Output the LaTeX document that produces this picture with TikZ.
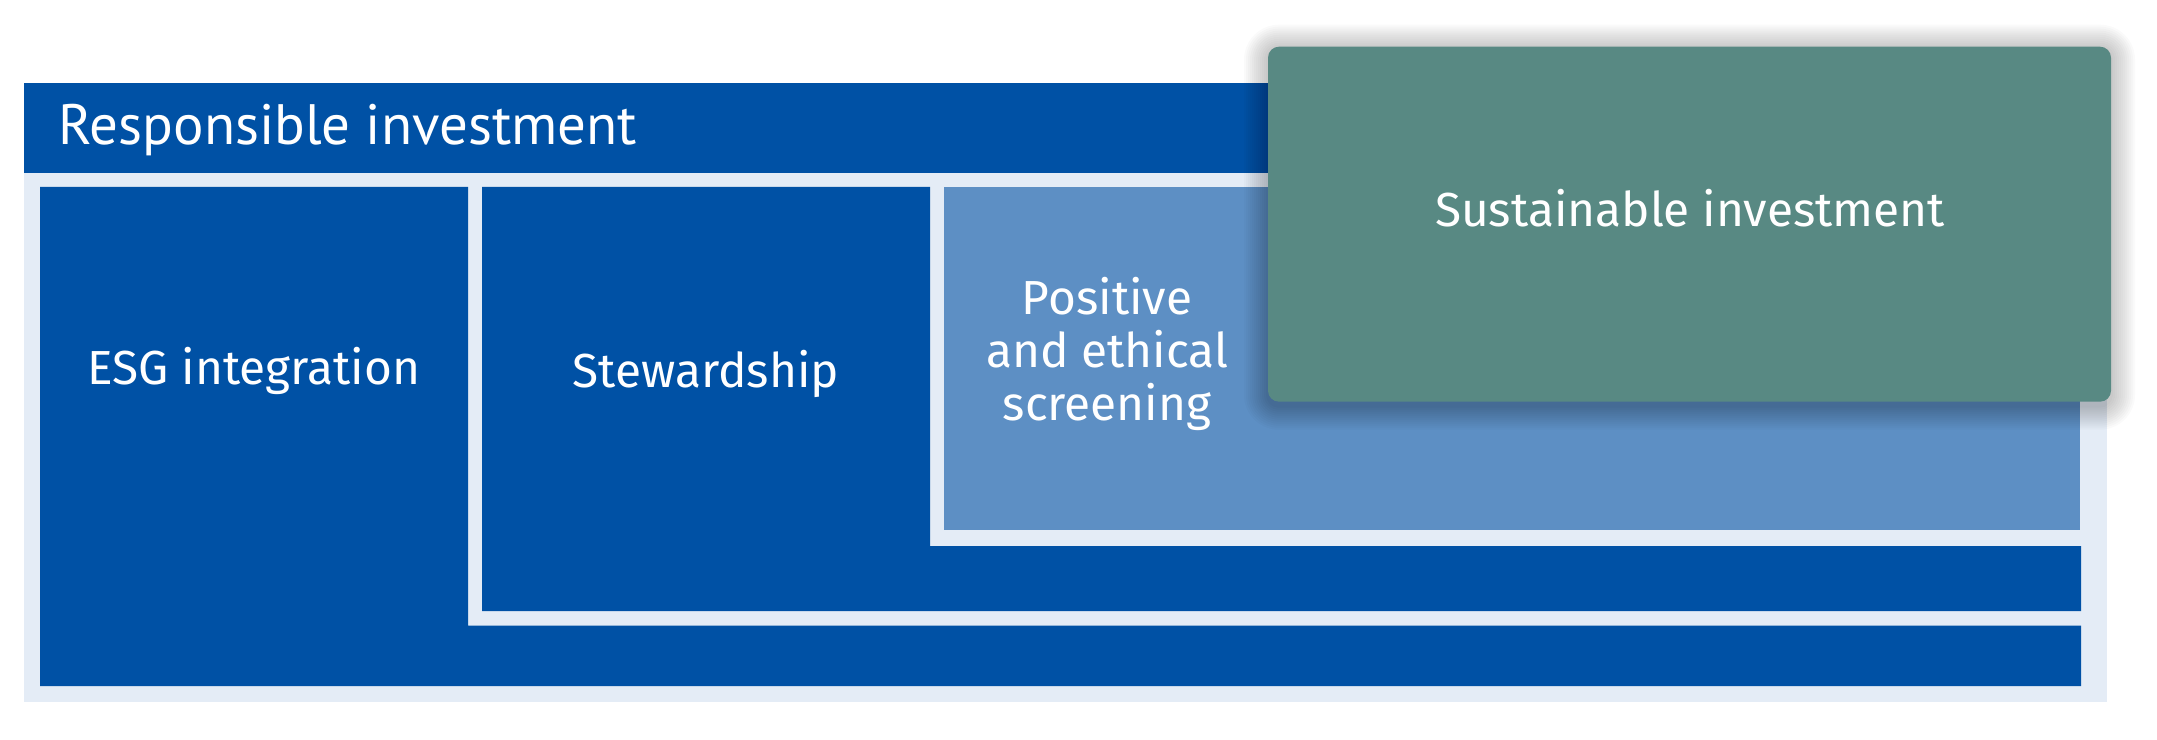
\documentclass[tikz,border=0pt]{standalone}
\usepackage{fontspec}
\setmainfont{Fira Sans}
\newfontfamily\headfont{PT Sans}
\definecolor{riblue}{RGB}{0,81,165}
\definecolor{riband}{RGB}{228,236,246}
\definecolor{riscreen}{RGB}{93,143,196}
\definecolor{riteal}{RGB}{88,137,131}

\begin{document}
\begin{tikzpicture}[
    lbl/.style={text=white,inner sep=0pt,anchor=base,
      font=\fontsize{13.6}{15.2}\selectfont},
    headlbl/.style={text=white,inner sep=0pt,anchor=base west,
      font=\headfont\fontsize{16.2}{19}\selectfont}]
  \useasboundingbox (0,0) rectangle (21.57,7.39);
  % outer frame and header bar
  \fill[riband] (0.245,0.373) rectangle (21.07,6.557);
  \fill[riblue] (0.245,5.663) rectangle (21.07,6.557);
  \node[headlbl] (resp) at (0.58,5.94) {Responsible investment};
  % ESG integration: column plus bottom strip
  \fill[riblue] (0.40,0.53) -- (0.40,5.52) -- (4.68,5.52) -- (4.68,1.133)
    -- (20.81,1.133) -- (20.81,0.53) -- cycle;
  \node[lbl] (esg) at (2.54,3.54) {ESG integration};
  % Stewardship: column plus strip
  \fill[riblue] (4.82,1.28) -- (4.82,5.52) -- (9.30,5.52) -- (9.30,1.93)
    -- (20.81,1.93) -- (20.81,1.28) -- cycle;
  \node[lbl] (stew) at (7.06,3.51) {Stewardship};
  % Positive and ethical screening (base = last line)
  \fill[riscreen] (9.44,2.09) rectangle (20.80,5.52);
  \node[lbl,align=center] (screen) at (11.07,3.18)
    {Positive\\and ethical\\screening};
  % soft shadow under the sustainable box
  \foreach \i in {1,...,12}
    \fill[black,opacity=0.018,rounded corners=0.11cm+\i*0.02cm]
      (12.68-\i*0.02,3.333-\i*0.02) rectangle (21.11+\i*0.02,6.903+\i*0.02);
  % Sustainable investment, on top
  \fill[riteal,rounded corners=0.11cm] (12.68,3.373) rectangle (21.11,6.923);
  \node[lbl] (sust) at (16.90,5.123) {Sustainable investment};
\end{tikzpicture}
\end{document}
